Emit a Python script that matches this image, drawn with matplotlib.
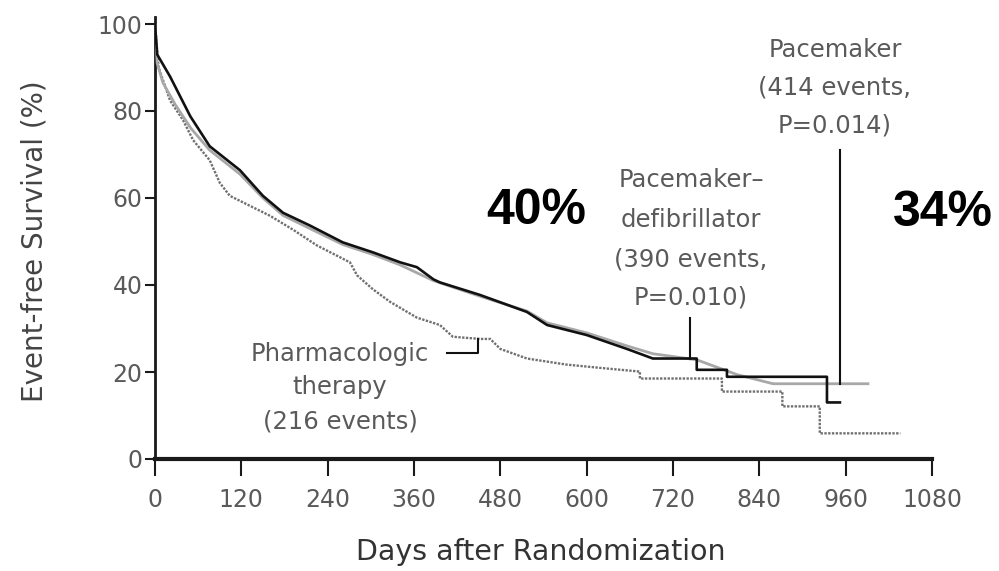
import matplotlib
matplotlib.use("Agg")
import matplotlib.pyplot as plt

# Kaplan-Meier event-free survival (%) by treatment arm
pd_days = [0, 3, 21, 49, 76, 118, 150, 178, 215, 261, 303, 341, 364, 387, 396,
           452, 517, 545, 600, 656, 692, 753, 753, 795, 795, 934, 934, 952]
pd_surv = [100, 93, 87.9, 78.8, 71.9, 66.4, 60.5, 56.6, 53.7, 49.8, 47.5, 45.2, 44.1,
           41.3, 40.6, 37.7, 33.8, 30.8, 28.5, 25.3, 23.1, 23.1, 20.5, 20.5, 18.9,
           18.9, 13.0, 13.0]

pm_days = [0, 3, 11, 28, 50, 76, 118, 150, 178, 215, 261, 303, 341, 387, 452,
           517, 545, 600, 656, 692, 753, 809, 859, 991]
pm_surv = [100, 91, 86.5, 81.5, 76, 71, 65.5, 60, 56, 53, 49.3, 47, 44.6, 41,
           37.4, 34, 31.3, 29, 26, 24.2, 22.8, 19.4, 17.3, 17.3]

ph_days = [0, 5, 21, 39, 53, 76, 90, 104, 132, 160, 192, 225, 271, 281, 303, 327,
           364, 396, 414, 452, 466, 480, 517, 572, 628, 674, 674, 788, 788, 872,
           872, 924, 924, 1036]
ph_surv = [100, 90, 82.4, 77.9, 73.3, 68.7, 63.5, 60.5, 58.2, 55.9, 52.7, 49.1,
           45.2, 42.2, 39, 36.1, 32.5, 30.8, 28.1, 27.6, 27.6, 25.3, 23.1, 21.7,
           20.8, 20.1, 18.5, 18.5, 15.5, 15.5, 12.1, 12.1, 5.9, 5.9]

x_ticks = [0, 120, 240, 360, 480, 600, 720, 840, 960, 1080]
y_ticks = [0, 20, 40, 60, 80, 100]

W, H = 999, 571
fig = plt.figure(figsize=(W / 100, H / 100), dpi=100)
fig.patch.set_facecolor("white")


def fx(px):
    return px / W


def fy(py):
    return 1 - py / H


FONT = ["DejaVu Sans"]
GRAY_TXT = "#5a5a5a"

ax = fig.add_axes([fx(155), fy(459), fx(932) - fx(155), fy(24) - fy(459)])
ax.set_xlim(0, 1080)
ax.set_ylim(0, 100)
ax.set_facecolor("white")

ax.plot(ph_days, ph_surv, color="#707070", lw=1.7, ls=(0, (1.0, 0.6)),
        solid_capstyle="butt", zorder=2)
ax.plot(pm_days, pm_surv, color="#a8a8a8", lw=2.0, zorder=3)
ax.plot(pd_days, pd_surv, color="#111111", lw=1.9, zorder=4)

# pointer lines from the labels to the curves
ax.plot([744, 744], [23.1, 32.4], color="#111111", lw=1.5, zorder=5)
ax.plot([952, 952], [17.3, 71], color="#111111", lw=1.5, zorder=5)
ax.plot([406, 449, 449], [24.4, 24.4, 27.6], color="#111111", lw=1.5, zorder=5)

for s in ["top", "right"]:
    ax.spines[s].set_visible(False)
ax.spines["left"].set_linewidth(2.0)
ax.spines["left"].set_color("#1a1a1a")
ax.spines["left"].set_bounds(0, 101.5)
ax.spines["bottom"].set_linewidth(3.0)
ax.spines["bottom"].set_color("#1a1a1a")

ax.set_xticks(x_ticks)
ax.set_yticks(y_ticks)
ax.set_xticklabels([str(v) for v in x_ticks])
ax.set_yticklabels([str(v) for v in y_ticks])
ax.tick_params(axis="y", direction="out", length=7, width=1.5, pad=2,
               colors="#1a1a1a", labelcolor=GRAY_TXT, labelsize=17)
ax.tick_params(axis="x", direction="out", length=12, width=1.5, pad=9,
               colors="#1a1a1a", labelcolor=GRAY_TXT, labelsize=17)
for lab in ax.get_xticklabels() + ax.get_yticklabels():
    lab.set_family(FONT)

fig.text(fx(541), fy(552), "Days after Randomization", ha="center", va="center",
         fontsize=20.5, color="#333333", family=FONT)
fig.text(fx(35), fy(241), "Event-free Survival (%)", ha="center", va="center",
         rotation=90, fontsize=20, color="#444444", family=FONT)

label_kw = dict(ha="center", va="center", fontsize=17.5, color=GRAY_TXT, family=FONT)
for txt, y in [("Pacemaker", 50), ("(414 events,", 87), ("P=0.014)", 125)]:
    fig.text(fx(835), fy(y), txt, **label_kw)
for txt, y in [("Pacemaker\u2013", 180), ("defibrillator", 220),
               ("(390 events,", 260), ("P=0.010)", 298)]:
    fig.text(fx(691), fy(y), txt, **label_kw)
for txt, y in [("Pharmacologic", 354), ("therapy", 387), ("(216 events)", 422)]:
    fig.text(fx(340), fy(y), txt, **label_kw)

big_kw = dict(ha="center", va="center", fontsize=36, fontweight="bold",
              color="black", family=["Liberation Sans", "DejaVu Sans"])
fig.text(fx(536), fy(211), "40%", **big_kw)
fig.text(fx(943), fy(213), "34%", **big_kw)

fig.savefig("out.png", dpi=100, facecolor="white")
